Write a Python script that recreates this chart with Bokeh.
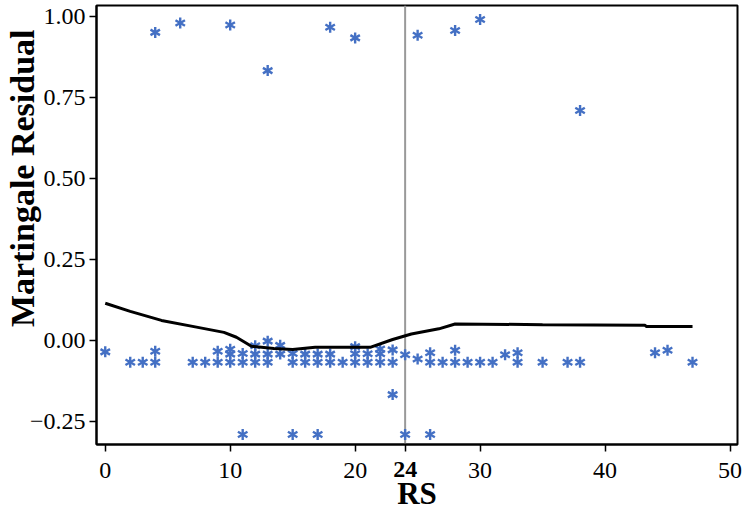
import math
from bokeh.plotting import figure
from bokeh.models import Range1d, FixedTicker, ColumnDataSource, LinearAxis
from bokeh.embed import file_html
from bokeh.resources import INLINE

# Martingale residual scatter points (RS, residual)
rs = [4, 6, 10, 13, 18, 20, 25, 28, 30, 38,
      11, 15, 17, 24, 26, 23,
      0, 2, 3, 4, 4, 7, 8, 9, 9,
      10, 10, 10, 11, 11, 12, 12, 12, 13, 13, 13,
      14, 14, 15, 15, 16, 16, 17, 17, 18, 18, 19,
      20, 20, 20, 21, 21, 22, 22, 22, 23, 23,
      24, 25, 26, 26, 27, 28, 28, 29, 30, 31, 32, 33, 33,
      35, 37, 38, 44, 45, 47]
resid = [0.951, 0.980, 0.974, 0.833, 0.967, 0.934, 0.942, 0.957, 0.991, 0.710,
         -0.29, -0.29, -0.29, -0.29, -0.29, -0.167,
         -0.035, -0.067, -0.067, -0.067, -0.033, -0.067, -0.067, -0.067, -0.033,
         -0.067, -0.042, -0.027, -0.067, -0.040, -0.067, -0.042, -0.016, -0.067, -0.042, -0.002,
         -0.042, -0.015, -0.067, -0.040, -0.067, -0.042, -0.067, -0.042, -0.067, -0.042, -0.067,
         -0.067, -0.041, -0.019, -0.067, -0.041, -0.067, -0.041, -0.026, -0.067, -0.029,
         -0.044, -0.057, -0.067, -0.038, -0.067, -0.067, -0.030, -0.067, -0.067, -0.067, -0.044, -0.067, -0.038,
         -0.067, -0.067, -0.067, -0.038, -0.030, -0.067]

# Smoothed fit line
fit_x = [0, 2, 4.5, 7.2, 9.5, 10.5, 11.7, 13.5, 15, 16.8, 20, 21.2, 23, 24.5, 26.7, 28, 35, 43.2, 43.3, 47]
fit_y = [0.115, 0.090, 0.062, 0.042, 0.025, 0.010, -0.018, -0.025, -0.028, -0.021, -0.021, -0.021,
         0.003, 0.020, 0.036, 0.051, 0.049, 0.047, 0.043, 0.043]

cutoff = 24
x_ticks = [0, 10, 20, 24, 30, 40, 50]
y_ticks = [-0.25, 0.0, 0.25, 0.5, 0.75, 1.0]

FONT = "Liberation Serif"
BLUE = "#4470C4"

p = figure(width=742, height=516, output_backend="svg", toolbar_location=None,
           x_range=Range1d(-0.7, 50.6), y_range=Range1d(-0.321, 1.034),
           min_border_left=92, min_border_right=5, min_border_top=5, min_border_bottom=72)
p.grid.visible = False
p.outline_line_color = "black"
p.outline_line_width = 2

# vertical cutoff line
p.line(x=[cutoff, cutoff], y=[-0.321, 1.034], line_color="#999999", line_width=2)

# asterisk markers built from six rays
src = ColumnDataSource(dict(x=rs, y=resid))
for a in [90, 30, 150, 210, 270, 330]:
    p.ray(x="x", y="y", source=src, length=5.5, length_units="screen",
          angle=math.radians(a), line_color=BLUE, line_width=2.4)

p.line(fit_x, fit_y, line_color="black", line_width=3)

p.xaxis.ticker = FixedTicker(ticks=x_ticks)
p.xaxis.major_label_overrides = {24: " "}
p.yaxis.ticker = FixedTicker(ticks=y_ticks)
p.yaxis.major_label_overrides = {-0.25: "\u22120.25", 0.0: "0.00", 0.25: "0.25", 0.5: "0.50",
                                 0.75: "0.75", 1.0: "1.00"}

for ax in (p.xaxis[0], p.yaxis[0]):
    ax.axis_line_width = 2
    ax.major_tick_line_width = 1.5
    ax.major_tick_out = 7
    ax.major_tick_in = 0
    ax.minor_tick_out = 0
    ax.minor_tick_in = 0
    ax.major_label_text_font = FONT
    ax.major_label_text_font_size = "24px"
    ax.major_label_text_color = "black"
    ax.axis_label_text_font = FONT
    ax.axis_label_text_font_style = "bold"
    ax.axis_label_text_color = "black"

# leading spaces lift the rotated title above the frame centre, as in the original
p.yaxis.axis_label = "\u2002\u2002\u2002\u2002\u2002\u00a0Martingale Residual"
p.yaxis.axis_label_text_font_size = "34px"
p.xaxis.major_label_standoff = 5
p.yaxis.major_label_standoff = 4
p.yaxis.axis_label_standoff = -14

# second bottom axis: bold cutoff tick label and the axis title
ax2 = LinearAxis(ticker=FixedTicker(ticks=[cutoff]), axis_label="RS")
ax2.axis_line_color = None
ax2.major_tick_line_color = None
ax2.minor_tick_line_color = None
ax2.major_tick_out = 0
ax2.major_tick_in = 0
ax2.major_label_standoff = -24
ax2.major_label_text_font = FONT
ax2.major_label_text_font_size = "24px"
ax2.major_label_text_font_style = "bold"
ax2.major_label_text_color = "black"
ax2.axis_label_text_font = FONT
ax2.axis_label_text_font_size = "31px"
ax2.axis_label_text_font_style = "bold"
ax2.axis_label_text_color = "black"
ax2.axis_label_standoff = -4
p.add_layout(ax2, "below")

open("out.html", "w").write(file_html(p, INLINE))
